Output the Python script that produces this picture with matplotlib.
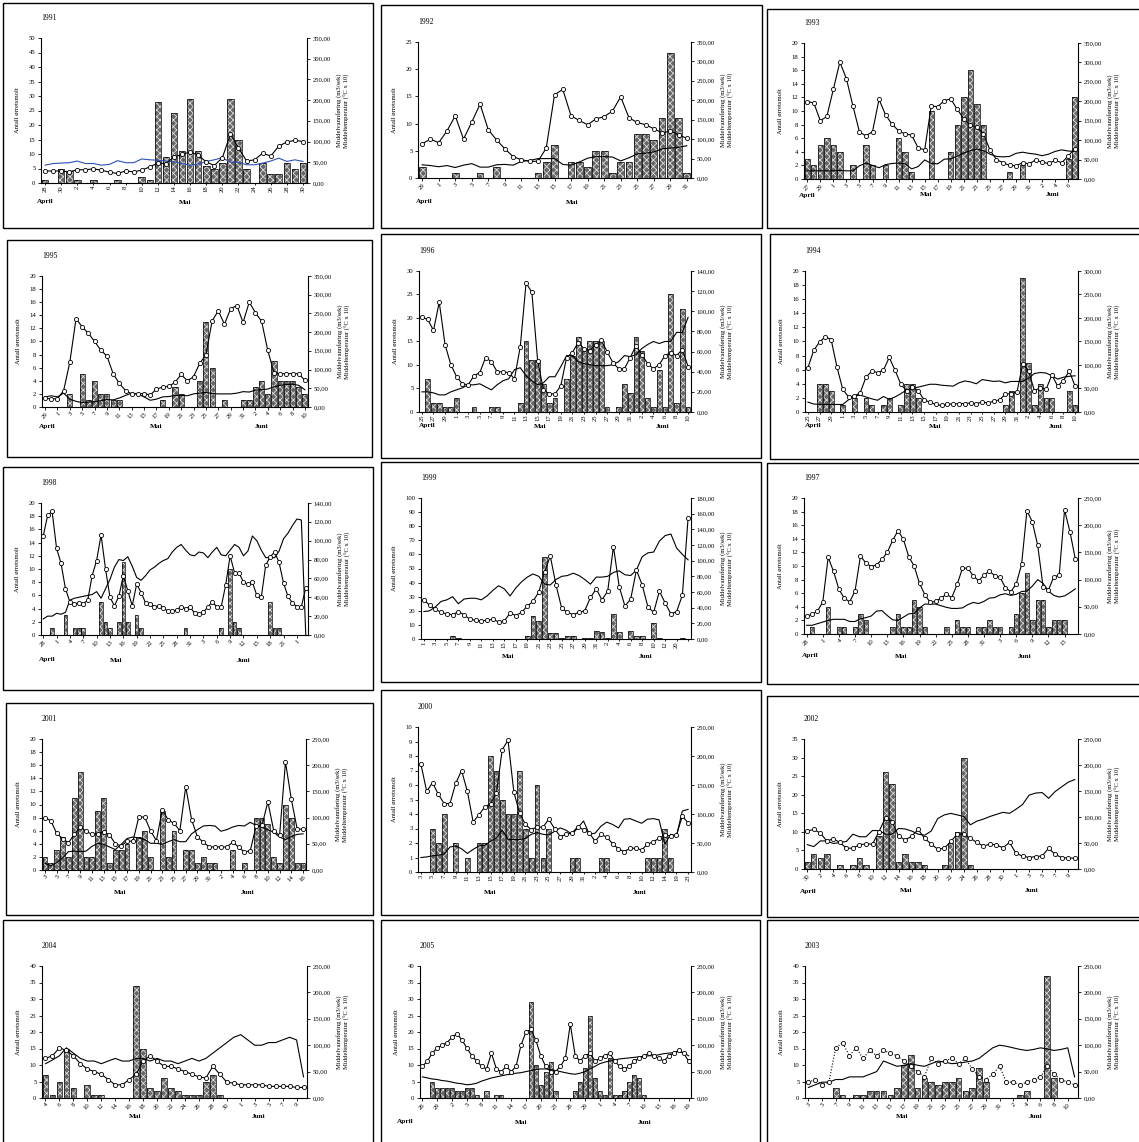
import numpy as np
import matplotlib
matplotlib.use("Agg")
import matplotlib.pyplot as plt
from matplotlib.patches import Rectangle

plt.rcParams['font.family'] = ['Liberation Serif', 'DejaVu Serif']
plt.rcParams['hatch.linewidth'] = 0.6

W, H = 1139, 1142

# ---------------- data ----------------
# 1991
days_1991 = [28, 29, 30] + list(range(1, 31))
smolt_1991 = [1, 0, 5, 4, 1, 0, 1, 0, 0, 1, 0, 0, 2, 1, 28, 9, 24, 11, 29, 11, 6, 5, 7, 29, 15, 5, 0, 7, 3, 3, 7, 5, 7]
flow_1991 = [29, 29, 29, 27, 32, 32, 34, 31, 26, 23, 29, 27, 31, 39, 48, 47, 63, 69, 75, 67, 51, 42, 61, 118, 85, 53, 56, 72, 65, 89, 99, 103, 100]
temp_1991 = [43, 47, 48, 49, 53, 47, 47, 43, 45, 54, 49, 49, 58, 56, 55, 53, 51, 47, 43, 46, 52, 56, 61, 50, 50, 44, 44, 48, 53, 60, 52, 56, 52]

# 1992
days_1992 = [29, 30] + list(range(1, 32))
smolt_1992 = [2, 0, 0, 0, 1, 0, 0, 1, 0, 2, 0, 0, 0, 0, 1, 3, 6, 0, 3, 3, 2, 5, 5, 1, 3, 3, 8, 8, 7, 11, 23, 11, 1]
flow_1992 = [88, 100, 91, 121, 160, 100, 144, 190, 124, 98, 75, 55, 47, 43, 43, 77, 214, 228, 160, 148, 137, 152, 158, 172, 209, 155, 143, 137, 127, 116, 121, 111, 102]
temp_1992 = [34, 32, 29, 32, 27, 33, 37, 28, 28, 34, 35, 33, 43, 45, 50, 50, 50, 35, 33, 41, 51, 55, 55, 54, 44, 52, 62, 64, 67, 75, 77, 79, 83]

# 1993
days_1993 = [27, 28, 29, 30] + list(range(1, 32)) + list(range(1, 8))
smolt_1993 = [3, 2, 5, 6, 5, 4, 0, 2, 0, 5, 2, 0, 2, 0, 6, 4, 1, 0, 0, 10, 0, 0, 4, 8, 12, 16, 11, 8, 0, 0, 0, 1, 0, 2, 0, 0, 0, 0, 0, 0, 3, 12]
flow_1993 = [199, 196, 150, 161, 231, 301, 258, 188, 121, 111, 122, 205, 165, 141, 124, 116, 113, 80, 75, 188, 186, 202, 206, 179, 155, 139, 133, 116, 75, 50, 42, 35, 34, 42, 39, 49, 43, 40, 48, 42, 59, 78]
temp_1993 = [21, 21, 21, 21, 21, 22, 21, 21, 34, 41, 35, 29, 37, 40, 41, 39, 26, 32, 49, 40, 39, 51, 52, 59, 67, 73, 77, 73, 64, 58, 57, 58, 66, 69, 66, 64, 60, 64, 71, 75, 72, 71]

# 1995
days_1995 = [29, 30] + list(range(1, 32)) + list(range(1, 11))
smolt_1995 = [0, 0, 0, 0, 2, 0, 5, 1, 4, 2, 2, 1, 1, 0, 0, 0, 0, 0, 0, 1, 0, 3, 2, 0, 0, 4, 13, 6, 0, 1, 0, 0, 1, 1, 3, 4, 2, 7, 4, 4, 4, 3, 2]
flow_1995 = [23, 22, 22, 44, 120, 236, 214, 197, 175, 152, 136, 89, 63, 44, 35, 35, 36, 32, 48, 53, 55, 66, 87, 70, 81, 117, 139, 230, 257, 221, 263, 271, 226, 280, 252, 229, 151, 92, 89, 89, 89, 89, 71]
temp_1995 = [27, 30, 27, 37, 21, 15, 12, 13, 14, 17, 20, 19, 24, 31, 37, 35, 27, 18, 21, 27, 28, 31, 31, 30, 35, 37, 39, 36, 35, 35, 35, 37, 41, 40, 45, 46, 48, 54, 58, 60, 61, 58, 46]

# 1996
days_1996 = list(range(25, 31)) + list(range(1, 32)) + list(range(1, 11))
smolt_1996 = [0, 7, 2, 2, 1, 1, 3, 0, 0, 1, 0, 0, 1, 1, 0, 0, 0, 2, 15, 11, 11, 6, 2, 3, 0, 7, 12, 16, 13, 15, 15, 15, 1, 0, 1, 6, 4, 16, 13, 3, 1, 9, 1, 25, 2, 22, 1]
flow_1996 = [94, 92, 81, 109, 67, 47, 35, 28, 27, 36, 39, 54, 50, 40, 40, 39, 33, 65, 128, 119, 51, 22, 18, 18, 26, 54, 59, 69, 63, 61, 67, 71, 60, 49, 43, 43, 54, 66, 57, 48, 43, 47, 56, 59, 56, 62, 45]
temp_1996 = [20, 20, 19, 17, 17, 20, 22, 24, 27, 27, 28, 25, 22, 27, 31, 33, 42, 44, 36, 31, 27, 29, 35, 35, 45, 56, 56, 50, 48, 47, 46, 46, 46, 47, 50, 56, 55, 57, 63, 67, 70, 68, 70, 70, 79, 79, 94]

# 1994
days_1994 = list(range(25, 31)) + list(range(1, 32)) + list(range(1, 11))
smolt_1994 = [0, 0, 4, 4, 3, 0, 1, 0, 2, 0, 2, 1, 0, 1, 2, 0, 1, 4, 4, 2, 0, 0, 0, 0, 0, 0, 0, 0, 0, 0, 0, 0, 0, 0, 1, 3, 0, 19, 7, 1, 4, 2, 2, 0, 0, 3, 1]
flow_1994 = [94, 131, 149, 160, 154, 96, 48, 32, 34, 41, 74, 87, 84, 89, 116, 89, 59, 45, 53, 45, 26, 21, 16, 14, 17, 17, 18, 18, 19, 18, 21, 19, 23, 26, 38, 39, 43, 103, 87, 45, 52, 48, 79, 55, 67, 87, 55]
temp_1994 = [21, 17, 16, 16, 16, 16, 16, 26, 34, 36, 32, 28, 25, 33, 27, 32, 39, 47, 50, 53, 56, 59, 59, 57, 56, 55, 62, 66, 64, 60, 69, 67, 65, 66, 62, 65, 65, 65, 72, 82, 84, 83, 77, 70, 74, 76, 77]

# 1998
days_1998 = [28, 29, 30] + list(range(1, 32)) + list(range(1, 24)) + [1, 2, 3]
smolt_1998 = [0, 0, 1, 0, 0, 3, 0, 1, 1, 1, 0, 0, 0, 5, 2, 1, 0, 2, 11, 2, 0, 3, 1, 0, 0, 0, 0, 0, 0, 0, 0, 0, 1, 0, 0, 0, 0, 0, 0, 0, 1, 0, 10, 2, 1, 0, 0, 0, 0, 0, 0, 5, 1, 1, 0, 0, 0, 0, 0, 0]
flow_1998 = [105, 127, 131, 92, 76, 49, 35, 33, 34, 33, 37, 63, 79, 106, 70, 40, 31, 41, 63, 47, 31, 54, 45, 34, 33, 30, 31, 29, 25, 25, 27, 30, 28, 30, 23, 22, 24, 30, 35, 30, 30, 53, 84, 66, 66, 56, 54, 56, 42, 40, 74, 83, 88, 77, 55, 41, 34, 30, 30, 50]
temp_1998 = [17, 20, 20, 23, 22, 24, 37, 39, 40, 41, 42, 43, 46, 39, 49, 59, 72, 80, 79, 83, 73, 61, 58, 63, 69, 72, 76, 79, 81, 88, 93, 96, 90, 85, 84, 88, 87, 82, 88, 93, 85, 84, 90, 96, 93, 84, 89, 105, 100, 90, 82, 82, 82, 89, 102, 108, 116, 123, 122, 0]

# 1999 (last row has no date)
days_1999 = list(range(1, 32)) + list(range(1, 13)) + [19, 20, 21, ""]
smolt_1999 = [0, 0, 0, 0, 0, 2, 1, 0, 0, 0, 0, 0, 0, 0, 0, 0, 0, 0, 2, 16, 13, 58, 4, 4, 1, 2, 2, 0, 1, 1, 6, 5, 1, 18, 5, 0, 6, 2, 2, 0, 11, 1, 0, 0, 0, 1, 0]
flow_1999 = [50, 43, 38, 34, 32, 31, 35, 31, 25, 24, 23, 24, 25, 22, 23, 33, 30, 34, 42, 48, 60, 85, 106, 69, 39, 34, 31, 34, 36, 53, 64, 50, 61, 118, 67, 42, 51, 88, 69, 41, 34, 61, 46, 32, 35, 56, 155]
temp_1999 = [35, 36, 41, 48, 50, 54, 45, 51, 52, 52, 50, 55, 62, 68, 64, 55, 65, 73, 79, 83, 80, 70, 69, 76, 80, 81, 84, 81, 76, 70, 79, 79, 80, 85, 87, 82, 81, 88, 105, 110, 111, 125, 132, 134, 116, 108, 101]

# 1997
days_1997 = [28, 29, 30] + list(range(1, 32)) + list(range(1, 18))
smolt_1997 = [0, 1, 0, 0, 4, 0, 1, 1, 0, 1, 3, 2, 0, 0, 0, 0, 1, 3, 1, 1, 5, 4, 1, 0, 0, 0, 1, 0, 2, 1, 1, 0, 1, 1, 2, 1, 1, 0, 1, 3, 6, 9, 2, 5, 5, 1, 2, 2, 2, 0, 0]
flow_1997 = [33, 36, 42, 59, 141, 115, 82, 66, 59, 79, 143, 131, 124, 127, 137, 150, 172, 190, 174, 142, 125, 93, 72, 58, 60, 66, 73, 67, 91, 121, 121, 107, 98, 108, 116, 107, 104, 85, 78, 92, 128, 227, 206, 163, 87, 81, 105, 108, 228, 188, 138]
temp_1997 = [16, 16, 19, 22, 25, 27, 27, 27, 23, 23, 28, 30, 33, 42, 43, 34, 26, 25, 31, 37, 38, 48, 55, 55, 55, 52, 49, 47, 47, 48, 54, 58, 56, 60, 66, 67, 72, 74, 71, 73, 78, 79, 88, 100, 93, 79, 71, 68, 70, 76, 83]

# 2001
days_2001 = list(range(3, 32)) + list(range(1, 17))
smolt_2001 = [2, 1, 3, 5, 2, 11, 15, 2, 2, 9, 11, 1, 3, 3, 4, 0, 5, 6, 2, 0, 9, 2, 6, 0, 3, 3, 1, 2, 1, 1, 0, 0, 3, 0, 1, 0, 8, 8, 7, 2, 1, 10, 8, 1, 1]
flow_2001 = [100, 94, 70, 60, 52, 68, 82, 74, 68, 69, 73, 67, 50, 46, 55, 55, 101, 101, 75, 56, 115, 96, 89, 75, 159, 96, 63, 53, 44, 44, 44, 44, 53, 44, 34, 37, 84, 85, 130, 75, 66, 206, 135, 78, 78]
temp_2001 = [13, 8, 14, 23, 35, 36, 35, 36, 45, 51, 49, 44, 39, 49, 60, 63, 61, 58, 51, 51, 49, 54, 58, 54, 54, 69, 77, 84, 85, 84, 74, 77, 82, 85, 84, 91, 85, 82, 77, 72, 63, 58, 64, 68, 69]

# 2000
days_2000 = list(range(3, 32)) + list(range(1, 15)) + [16, 19, 21, 23]
smolt_2000 = [0, 0, 3, 2, 4, 0, 2, 0, 1, 0, 2, 2, 8, 7, 5, 4, 4, 7, 3, 1, 6, 1, 3, 0, 0, 0, 1, 1, 0, 0, 0, 1, 1, 0, 0, 0, 0, 0, 0, 1, 1, 1, 3, 1, 0, 0, 0]
flow_2000 = [186, 139, 154, 134, 118, 118, 153, 175, 139, 86, 99, 112, 118, 136, 211, 227, 138, 101, 82, 73, 78, 77, 91, 75, 61, 65, 67, 78, 73, 67, 53, 65, 60, 49, 40, 35, 41, 41, 38, 48, 52, 58, 64, 62, 64, 96, 85]
temp_2000 = [25, 26, 28, 29, 31, 43, 45, 40, 32, 39, 45, 46, 53, 59, 72, 56, 56, 56, 58, 65, 68, 65, 64, 70, 76, 72, 65, 76, 88, 65, 67, 79, 86, 82, 76, 91, 92, 88, 84, 91, 92, 90, 48, 65, 62, 105, 108]

# 2002
days_2002 = [30] + list(range(1, 32)) + list(range(1, 11))
smolt_2002 = [2, 4, 3, 4, 0, 1, 0, 1, 3, 1, 0, 9, 26, 23, 2, 4, 2, 2, 1, 0, 0, 1, 7, 10, 30, 1, 0, 0, 0, 0, 0, 0, 0, 0, 0, 0, 0, 0, 0, 0, 0, 0]
flow_2002 = [73, 76, 69, 54, 58, 51, 40, 40, 47, 48, 48, 72, 99, 91, 63, 56, 63, 76, 59, 48, 38, 40, 53, 67, 67, 59, 51, 44, 48, 46, 41, 51, 30, 25, 22, 24, 25, 40, 28, 22, 21, 21]
temp_2002 = [47, 43, 54, 54, 49, 51, 53, 67, 62, 62, 74, 74, 67, 67, 78, 77, 73, 67, 65, 73, 97, 104, 107, 104, 101, 85, 92, 96, 101, 105, 109, 107, 115, 124, 142, 146, 147, 136, 149, 158, 167, 172]

# 2004
days_2004 = list(range(4, 32)) + list(range(1, 11))
smolt_2004 = [7, 1, 5, 15, 3, 0, 4, 1, 1, 0, 0, 0, 0, 34, 15, 3, 2, 6, 3, 2, 1, 1, 1, 5, 7, 1, 0, 0, 0, 0, 0, 0, 0, 0, 0, 0, 0, 0]
flow_2004 = [75, 80, 95, 90, 80, 65, 55, 50, 45, 35, 25, 25, 35, 45, 70, 80, 70, 60, 60, 55, 50, 45, 40, 38, 60, 45, 30, 28, 25, 25, 25, 25, 22, 22, 22, 22, 20, 20]
temp_2004 = [65, 72, 80, 95, 85, 75, 70, 70, 65, 70, 75, 70, 70, 75, 75, 70, 75, 70, 70, 65, 70, 75, 70, 75, 85, 95, 105, 115, 120, 110, 100, 100, 105, 105, 110, 115, 110, 40]

# 2005
days_2005 = list(range(26, 31)) + list(range(1, 32)) + list(range(1, 20))
smolt_2005 = [0, 0, 5, 3, 3, 3, 3, 2, 2, 3, 3, 1, 0, 2, 0, 1, 1, 0, 0, 0, 0, 0, 29, 10, 4, 8, 11, 2, 0, 0, 0, 2, 5, 9, 25, 6, 2, 1, 12, 1, 1, 2, 5, 7, 6, 1, 0, 0, 0, 0, 0, 0, 0, 0, 0]
flow_2005 = [60, 70, 85, 95, 100, 105, 115, 122, 110, 95, 80, 70, 60, 55, 85, 55, 50, 60, 50, 60, 100, 125, 130, 110, 80, 60, 50, 50, 60, 75, 140, 80, 70, 80, 85, 70, 75, 80, 85, 70, 60, 55, 60, 70, 75, 80, 85, 80, 75, 70, 80, 85, 90, 85, 70]
temp_2005 = [40, 38, 36, 35, 33, 32, 30, 28, 27, 25, 26, 28, 32, 35, 38, 40, 42, 44, 45, 47, 48, 50, 52, 54, 55, 55, 54, 52, 50, 48, 46, 45, 47, 50, 55, 60, 65, 68, 70, 72, 74, 75, 76, 77, 78, 79, 80, 80, 82, 84, 85, 86, 88, 86, 80]

# 2003
days_2003 = list(range(3, 32)) + list(range(1, 12))
smolt_2003 = [0, 0, 0, 0, 3, 1, 0, 1, 1, 2, 2, 2, 1, 3, 10, 13, 3, 6, 5, 4, 5, 5, 6, 2, 3, 9, 5, 0, 0, 0, 0, 1, 2, 0, 0, 37, 6, 0, 0, 0]
flow_2003 = [30, 35, 25, 30, 95, 105, 80, 95, 75, 90, 80, 90, 85, 80, 70, 60, 50, 40, 75, 65, 70, 75, 65, 75, 55, 40, 35, 45, 60, 30, 30, 25, 30, 35, 40, 60, 45, 35, 30, 25]
temp_2003 = [20, 25, 30, 30, 35, 35, 40, 40, 40, 45, 50, 70, 65, 60, 62, 65, 62, 60, 65, 70, 68, 65, 66, 68, 70, 75, 85, 95, 100, 98, 95, 92, 90, 92, 95, 93, 90, 92, 95, 40]

# month captions and the category position they are centred on
months_1991 = [("April", 0), ("Mai", 17.4)]
months_1992 = [("April", 0.2), ("Mai", 18.1)]
months_1993 = [("April", 0), ("Mai", 18.2), ("Juni", 37.6)]
months_1995 = [("April", 0.4), ("Mai", 18), ("Juni", 35)]
months_1996 = [("April", 1), ("Mai", 20.4), ("Juni", 41.6)]
months_1994 = [("April", 0.9), ("Mai", 21.9), ("Juni", 42.6)]
months_1998 = [("April", 0.8), ("Mai", 16.3), ("Juni", 45)]
months_1999 = [("Mai", 14.6), ("Juni", 38.5)]
months_1997 = [("April", 0.6), ("Mai", 17.6), ("Juni", 40.6)]
months_2001 = [("Mai", 12.8), ("Juni", 34.5)]
months_2000 = [("Mai", 11.9), ("Juni", 37.6)]
months_2002 = [("April", 0.1), ("Mai", 15.2), ("Juni", 34.4)]
months_2004 = [("Mai", 12.9), ("Juni", 30.6)]
months_2005 = [("April", -3.5), ("Mai", 20), ("Juni", 45)]
months_2003 = [("Mai", 13.8), ("Juni", 33.3)]

# ---------------- layout (pixels) ----------------
panels = [
    dict(year="1991", days=days_1991, smolt=smolt_1991, flow=flow_1991, temp=temp_1991, months=months_1991,
         box=(3, 3, 373, 228), axes=(41, 38, 307, 183), ymax=50, ystep=5, rmax=350, rstep=50, lstep=2, rot=90,
         mon_dy=19, temp_color="#2f4fb8"),
    dict(year="1992", days=days_1992, smolt=smolt_1992, flow=flow_1992, temp=temp_1992, months=months_1992,
         box=(381, 5, 762, 228), axes=(418, 42, 691, 178), ymax=25, ystep=5, rmax=350, rstep=50, lstep=2, rot=45,
         mon_dy=24),
    dict(year="1993", days=days_1993, smolt=smolt_1993, flow=flow_1993, temp=temp_1993, months=months_1993,
         box=(767, 9, 1145, 228), axes=(804, 43, 1078, 179), ymax=20, ystep=2, rmax=350, rstep=50, lstep=2, rot=45,
         mon_dy=16),
    dict(year="1995", days=days_1995, smolt=smolt_1995, flow=flow_1995, temp=temp_1995, months=months_1995,
         box=(7, 240, 372, 457), axes=(42, 276, 308, 407), ymax=20, ystep=2, rmax=350, rstep=50, lstep=2, rot=45,
         mon_dy=20),
    dict(year="1996", days=days_1996, smolt=smolt_1996, flow=flow_1996, temp=temp_1996, months=months_1996,
         box=(381, 234, 761, 458), axes=(419, 271, 691, 412), ymax=30, ystep=5, rmax=140, rstep=20, lstep=2, rot=90,
         mon_dy=14),
    dict(year="1994", days=days_1994, smolt=smolt_1994, flow=flow_1994, temp=temp_1994, months=months_1994,
         box=(770, 234, 1145, 459), axes=(805, 271, 1078, 412), ymax=20, ystep=2, rmax=300, rstep=50, lstep=2, rot=90,
         mon_dy=14),
    dict(year="1998", days=days_1998, smolt=smolt_1998, flow=flow_1998, temp=temp_1998, months=months_1998,
         box=(3, 467, 373, 690), axes=(41, 503, 308, 635), ymax=20, ystep=2, rmax=140, rstep=20, lstep=3, rot=45,
         mon_dy=25),
    dict(year="1999", days=days_1999, smolt=smolt_1999, flow=flow_1999, temp=temp_1999, months=months_1999,
         box=(381, 462, 761, 682), axes=(421, 498, 691, 639), ymax=100, ystep=10, rmax=180, rstep=20, lstep=2, rot=90,
         mon_dy=18),
    dict(year="1997", days=days_1997, smolt=smolt_1997, flow=flow_1997, temp=temp_1997, months=months_1997,
         box=(767, 463, 1145, 684), axes=(804, 498, 1078, 634), ymax=20, ystep=2, rmax=250, rstep=50, lstep=3, rot=45,
         mon_dy=22),
    dict(year="2001", days=days_2001, smolt=smolt_2001, flow=flow_2001, temp=temp_2001, months=months_2001,
         box=(6, 703, 373, 915), axes=(42, 739, 306, 870), ymax=20, ystep=2, rmax=250, rstep=50, lstep=2, rot=45,
         mon_dy=22),
    dict(year="2000", days=days_2000, smolt=smolt_2000, flow=flow_2000, temp=temp_2000, months=months_2000,
         box=(381, 690, 761, 915), axes=(418, 727, 691, 872), ymax=10, ystep=1, rmax=250, rstep=50, lstep=2, rot=90,
         mon_dy=21),
    dict(year="2002", days=days_2002, smolt=smolt_2002, flow=flow_2002, temp=temp_2002, months=months_2002,
         box=(767, 696, 1145, 917), axes=(804, 739, 1078, 869), ymax=35, ystep=5, rmax=250, rstep=50, lstep=2, rot=45,
         mon_dy=22),
    dict(year="2004", days=days_2004, smolt=smolt_2004, flow=flow_2004, temp=temp_2004, months=months_2004,
         box=(3, 920, 373, 1150), axes=(42, 966, 307, 1098), ymax=40, ystep=5, rmax=250, rstep=50, lstep=2, rot=45,
         mon_dy=19),
    dict(year="2005", days=days_2005, smolt=smolt_2005, flow=flow_2005, temp=temp_2005, months=months_2005,
         box=(381, 920, 760, 1150), axes=(420, 966, 691, 1098), ymax=40, ystep=5, rmax=250, rstep=50, lstep=3, rot=45,
         mon_dy=24),
    dict(year="2003", days=days_2003, smolt=smolt_2003, flow=flow_2003, temp=temp_2003, months=months_2003,
         box=(767, 920, 1145, 1150), axes=(805, 966, 1078, 1098), ymax=40, ystep=5, rmax=250, rstep=50, lstep=2, rot=45,
         mon_dy=19, flow_ls=":"),
]

FS = 4.8
fig = plt.figure(figsize=(W / 100, H / 100), dpi=100)


def fx(px):
    return px / W


def fy(py):
    return 1 - py / H


def comma2(v, _pos=None):
    return f"{v:.2f}".replace(".", ",")


def draw_panel(p):
    bx0, by0, bx1, by1 = p["box"]
    fig.patches.append(Rectangle((fx(bx0), fy(by1)), fx(bx1 - bx0), (by1 - by0) / H,
                                 transform=fig.transFigure, fill=False, ec="black", lw=1.0))
    l, t, r, b = p["axes"]
    ax = fig.add_axes([fx(l), fy(b), fx(r - l), (b - t) / H])
    n = len(p["days"])
    x = np.arange(n)
    vals = np.array(p["smolt"], dtype=float)
    nz = vals > 0
    ax.bar(x[nz], vals[nz], width=0.82, color="#666666", edgecolor="#dcdcdc", hatch="xxxxx", linewidth=0)
    ax.bar(x[nz], vals[nz], width=0.82, fill=False, edgecolor="black", linewidth=0.5)
    ax.set_xlim(-0.5, n - 0.5)
    ax.set_ylim(0, p["ymax"])
    ax.set_yticks(np.arange(0, p["ymax"] + p["ystep"] / 2, p["ystep"]))
    ax.tick_params(axis="y", labelsize=FS, length=2.5, width=0.6, pad=1.5, direction="out")
    idx = list(range(0, n, p["lstep"]))
    ax.set_xticks(idx)
    if p["rot"] == 90:
        ax.tick_params(axis="x", labelsize=FS, length=1.2, width=0.6, pad=0.5, direction="out")
        ax.set_xticklabels([str(p["days"][i]) for i in idx], rotation=90, ha="center", va="top")
    else:
        ax.tick_params(axis="x", labelsize=FS, length=2, width=0.6, pad=1.0, direction="out")
        ax.set_xticklabels([str(p["days"][i]) for i in idx], rotation=45, ha="right", va="top",
                           rotation_mode="anchor")
    for s in ("top", "right"):
        ax.spines[s].set_visible(False)
    for s in ("left", "bottom"):
        ax.spines[s].set_linewidth(0.8)
    ax.set_ylabel("Antall ørretsmolt", fontsize=FS, labelpad=6)

    ax2 = ax.twinx()
    ax2.plot(x, p["temp"], color=p.get("temp_color", "black"), lw=0.8)
    ax2.plot(x, p["flow"], color="black", lw=0.8, ls=p.get("flow_ls", "-"), marker="o", ms=3.0,
             mfc="white", mec="black", mew=0.6)
    ax2.set_ylim(0, p["rmax"])
    ax2.set_yticks(np.arange(0, p["rmax"] + p["rstep"] / 2, p["rstep"]))
    ax2.yaxis.set_major_formatter(plt.FuncFormatter(comma2))
    ax2.tick_params(axis="y", labelsize=FS, length=2.5, width=0.6, pad=1.5, direction="out")
    for s in ("top", "left", "bottom"):
        ax2.spines[s].set_visible(False)
    ax2.spines["right"].set_linewidth(0.8)

    # right-hand axis titles (two stacked vertical lines of text)
    ymid = fy((t + b) / 2)
    fig.text(fx(r + 32), ymid, "Middelvannføring (m3/sek)", rotation=90, fontsize=FS,
             ha="center", va="center")
    fig.text(fx(r + 40), ymid, "Middeltemperatur (°C x 10)", rotation=90, fontsize=FS,
             ha="center", va="center")

    # year title
    fig.text(fx(l), fy(t - 20), p["year"], fontsize=5.5, ha="left", va="center")

    # month captions under the day labels
    for name, xi in p["months"]:
        xpix = l + (xi + 0.5) / n * (r - l)
        fig.text(fx(xpix), fy(b + p["mon_dy"]), name, fontsize=5.2, fontweight="bold",
                 ha="center", va="center")


for p in panels:
    draw_panel(p)

fig.savefig("out.png", dpi=100)
